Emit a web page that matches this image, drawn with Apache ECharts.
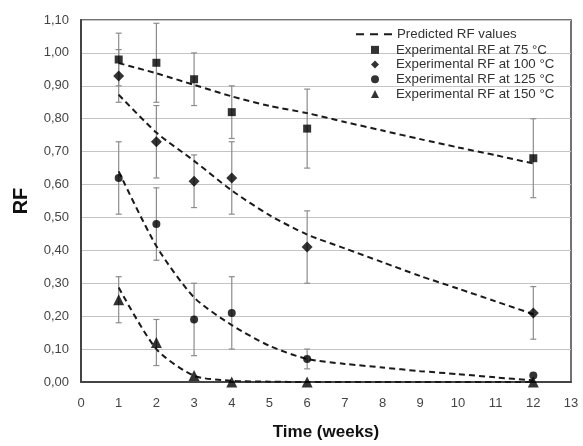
<!DOCTYPE html>
<html><head><meta charset="utf-8">
<script src="https://cdn.jsdelivr.net/npm/echarts@6/dist/echarts.min.js"></script>
<style>html,body{margin:0;padding:0;background:#fff}#c{width:583px;height:446px}</style>
</head><body><div id="c"></div>
<script>
// ---- data ----
const weeks = [1, 2, 3, 4, 6, 12];
const exp75  = [0.98, 0.97, 0.92, 0.82, 0.77, 0.68];
const err75  = [0.08, 0.12, 0.08, 0.08, 0.12, 0.12];
const exp100 = [0.93, 0.73, 0.61, 0.62, 0.41, 0.21];
const err100 = [0.08, 0.11, 0.08, 0.11, 0.11, 0.08];
const exp125 = [0.62, 0.48, 0.19, 0.21, 0.07, 0.02];
const err125 = [0.11, 0.11, 0.11, 0.11, 0.03, 0];
const exp150 = [0.25, 0.12, 0.02, 0.00, 0.00, 0.00];
const err150 = [0.07, 0.07, 0, 0, 0, 0];
// predicted curves read at each week
const predWeeks = [1, 2, 3, 4, 5, 6, 7, 8, 9, 10, 11, 12];
const pred75  = [0.969, 0.938, 0.903, 0.868, 0.839, 0.817, 0.790, 0.764, 0.738, 0.713, 0.689, 0.664];
const pred100 = [0.873, 0.758, 0.672, 0.582, 0.507, 0.448, 0.406, 0.364, 0.322, 0.284, 0.245, 0.206];
const pred125 = [0.640, 0.413, 0.257, 0.173, 0.110, 0.070, 0.055, 0.044, 0.033, 0.024, 0.014, 0.005];
const pred150 = [0.287, 0.100, 0.019, 0.004, 0.001, 0.000, 0.000, 0.000, 0.000, 0.000, 0.000, 0.000];
const yTicks = [0, 1.1, 0.1];
const xTicks = [0, 13, 1];

const FONT = '"Liberation Sans", Arial, sans-serif';
const pair = (xs, ys) => xs.map((w, i) => [w, ys[i]]);
const triple = (ys, es) => weeks.map((w, i) => [w, ys[i], es[i]]).filter(d => d[2] > 0);

function errSeries(ys, es) {
  return {
    type: 'custom', silent: true, z: 2, legendHoverLink: false,
    data: triple(ys, es),
    renderItem: function (params, api) {
      const x = api.value(0), y = api.value(1), e = api.value(2);
      const top = api.coord([x, y + e]);
      const bot = api.coord([x, y - e]);
      const cap = 3;
      const st = { stroke: '#8c8c8c', lineWidth: 1.2 };
      return { type: 'group', children: [
        { type: 'line', shape: { x1: top[0], y1: top[1], x2: bot[0], y2: bot[1] }, style: st },
        { type: 'line', shape: { x1: top[0] - cap, y1: top[1], x2: top[0] + cap, y2: top[1] }, style: st },
        { type: 'line', shape: { x1: bot[0] - cap, y1: bot[1], x2: bot[0] + cap, y2: bot[1] }, style: st }
      ]};
    }
  };
}
function predSeries(ys) {
  return {
    name: 'Predicted RF values', type: 'line', data: pair(predWeeks, ys), smooth: 0.25,
    symbol: 'none', showSymbol: false, z: 3, silent: true,
    lineStyle: { color: '#1a1a1a', width: 2, type: [6, 4] },
    itemStyle: { color: '#1a1a1a' }
  };
}
function expSeries(name, ys, symbol, size) {
  return {
    name: name, type: 'scatter', data: pair(weeks, ys), symbol: symbol, symbolSize: size, z: 5,
    itemStyle: { color: '#000' }
  };
}

const legendText = { fontFamily: FONT, fontSize: 13.3, color: '#333', lineHeight: 14.7 };
const chart = echarts.init(document.getElementById('c'), null, { renderer: 'canvas' });
chart.setOption({
  animation: false,
  backgroundColor: '#fff',
  textStyle: { fontFamily: FONT },
  grid: { left: 81, right: 12, top: 20, bottom: 63, show: true, borderColor: '#444', borderWidth: 1.5, backgroundColor: 'transparent' },
  legend: [
    { data: [{ name: 'Predicted RF values', icon: 'path://M0,0h8v2h-8zM14,0h8v2h-8zM28,0h8v2h-8z' }],
      left: 356, top: 27, itemWidth: 36, itemHeight: 2, itemGap: 0, padding: 0,
      itemStyle: { color: '#1a1a1a', borderWidth: 0 },
      textStyle: legendText },
    { data: ['Experimental RF at 75 °C', 'Experimental RF at 100 °C', 'Experimental RF at 125 °C', 'Experimental RF at 150 °C'],
      orient: 'vertical', left: 371, top: 42.5, itemWidth: 8, itemHeight: 8, itemGap: 0, padding: 0,
      formatter: '{g| }{name}',
      textStyle: Object.assign({}, legendText, { rich: { g: { width: 12, fontSize: 13.3, lineHeight: 14.7 } } }) }
  ],
  xAxis: {
    type: 'value', min: xTicks[0], max: xTicks[1], interval: xTicks[2],
    name: 'Time (weeks)', nameLocation: 'middle', nameGap: 42,
    nameTextStyle: { fontFamily: FONT, fontSize: 17, fontWeight: 'bold', color: '#111' },
    axisLine: { show: true, lineStyle: { color: '#444', width: 2 } },
    axisTick: { show: false },
    splitLine: { show: false },
    axisLabel: { fontFamily: FONT, fontSize: 13, color: '#444', margin: 15 }
  },
  yAxis: {
    type: 'value', min: yTicks[0], max: yTicks[1], interval: yTicks[2],
    name: 'RF', nameLocation: 'middle', nameGap: 50,
    nameTextStyle: { fontFamily: FONT, fontSize: 20, fontWeight: 'bold', color: '#111' },
    axisLine: { show: true, lineStyle: { color: '#444', width: 2 } },
    axisTick: { show: false },
    splitLine: { show: true, lineStyle: { color: '#c4c4c4', width: 1 } },
    axisLabel: { fontFamily: FONT, fontSize: 13, color: '#444', margin: 12,
      formatter: v => v.toFixed(2).replace('.', ',') }
  },
  series: [
    errSeries(exp75, err75), errSeries(exp100, err100), errSeries(exp125, err125), errSeries(exp150, err150),
    predSeries(pred75), predSeries(pred100), predSeries(pred125), predSeries(pred150),
    expSeries('Experimental RF at 75 °C', exp75, 'rect', 8),
    expSeries('Experimental RF at 100 °C', exp100, 'diamond', 11),
    expSeries('Experimental RF at 125 °C', exp125, 'circle', 8),
    expSeries('Experimental RF at 150 °C', exp150, 'triangle', 11)
  ]
});
</script></body></html>
